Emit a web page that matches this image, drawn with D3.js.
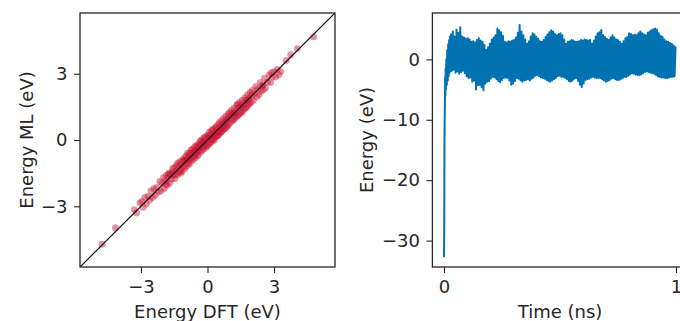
<!DOCTYPE html>
<html><head><meta charset="utf-8">
<script src="https://cdn.jsdelivr.net/npm/d3@7"></script>
<style>
html,body{margin:0;padding:0;background:#fff;}
svg{display:block;font-family:"DejaVu Sans",sans-serif;}
</style></head><body>
<svg id="chart" width="680" height="321"></svg>
<script>
// ---- Parity plot data (DFT vs ML energies, eV) ----
const dftEnergy = [
 -4.75,-4.15,-3.3,-3.05,-3.2,4.79,4.05,3.75,3.55,
 -2.95,-2.9,-2.82,-2.75,-2.68,-2.6,-2.55,-2.48,-2.42,-2.35,-2.3,-2.22,-2.15,-2.1,-2.05,
 -1.98,-1.95,-1.9,-1.86,-1.82,-1.78,-1.74,-1.7,-1.66,-1.62,-1.58,-1.55,-1.5,-1.47,-1.43,-1.4,-1.36,-1.32,-1.28,-1.25,-1.22,-1.18,-1.15,-1.12,-1.08,-1.05,-1.03,-1.0,-1.35,-1.6,-1.85,-1.2,-1.45,-1.75,-1.1,
 -0.97,-0.95,-0.92,-0.9,-0.87,-0.84,-0.82,-0.8,-0.77,-0.74,-0.72,-0.7,-0.67,-0.64,-0.62,-0.6,-0.57,-0.54,-0.52,-0.5,-0.47,-0.44,-0.42,-0.4,-0.37,-0.34,-0.32,-0.3,-0.27,-0.24,-0.22,-0.2,-0.17,-0.14,-0.12,-0.1,-0.07,-0.04,-0.02,-0.55,-0.85,-0.35,-0.65,-0.15,-0.45,
 0.0,0.03,0.05,0.08,0.1,0.13,0.15,0.18,0.2,0.23,0.25,0.28,0.3,0.33,0.35,0.38,0.4,0.43,0.45,0.48,0.5,0.53,0.55,0.58,0.6,0.63,0.65,0.68,0.7,0.73,0.75,0.78,0.8,0.83,0.85,0.88,0.9,0.93,0.95,0.98,0.1,0.4,0.6,0.85,0.25,0.7,
 1.0,1.03,1.06,1.09,1.12,1.15,1.18,1.21,1.24,1.27,1.3,1.33,1.36,1.39,1.42,1.45,1.48,1.51,1.54,1.57,1.6,1.63,1.66,1.69,1.72,1.75,1.78,1.81,1.84,1.87,1.9,1.93,1.96,1.99,1.2,1.5,1.8,1.35,
 2.02,2.07,2.12,2.17,2.22,2.27,2.32,2.37,2.42,2.47,2.52,2.57,2.62,2.7,2.78,2.85,2.92,3.0,3.08,3.15,3.22,3.3,2.5,2.88
];
const mlEnergy = [
 -4.72,-3.97,-3.15,-2.85,-3.3,4.67,4.14,3.86,3.6,
 -2.78,-3.05,-2.6,-2.9,-2.55,-2.72,-2.3,-2.6,-2.2,-2.5,-2.15,-2.35,-1.88,-2.3,-1.95,
 -1.7,-2.2,-1.85,-1.6,-2.05,-1.7,-1.5,-1.95,-1.55,-1.78,-1.3,-1.6,-1.25,-1.75,-1.4,-1.15,-1.58,-1.22,-1.45,-0.98,-1.35,-1.1,-1.42,-0.9,-1.2,-0.82,-1.3,-0.95,-1.05,-1.45,-2.0,-1.5,-1.55,-1.55,-0.95,
 -0.72,-1.2,-0.9,-0.6,-1.05,-0.7,-1.1,-0.58,-0.85,-0.45,-0.95,-0.62,-0.4,-0.88,-0.5,-0.75,-0.3,-0.8,-0.47,-0.25,-0.68,-0.3,-0.7,-0.18,-0.45,-0.05,-0.55,-0.22,0.0,-0.48,-0.1,-0.35,0.1,-0.4,-0.07,0.15,-0.28,0.1,-0.3,-0.55,-0.85,-0.32,-0.6,-0.12,-0.5,
 0.22,-0.22,0.08,0.36,-0.15,0.25,-0.12,0.42,0.0,0.48,0.02,0.3,-0.02,0.55,0.12,0.6,0.15,0.38,0.2,0.7,0.22,0.78,0.3,0.56,0.35,0.88,0.38,0.72,0.45,0.98,0.5,0.8,0.52,1.08,0.6,0.92,0.62,1.18,0.7,1.0,0.1,0.42,0.6,0.88,0.25,0.7,
 1.25,0.78,1.1,1.35,0.88,1.22,0.9,1.45,1.0,1.3,1.05,1.58,1.1,1.42,1.15,1.7,1.22,1.55,1.25,1.8,1.32,1.65,1.4,1.92,1.45,1.78,1.5,2.05,1.58,1.88,1.65,2.15,1.7,2.0,1.2,1.5,1.8,1.62,
 2.25,1.8,2.1,2.42,1.95,2.3,2.05,2.6,2.2,2.45,2.28,2.8,2.35,2.62,2.95,2.6,2.85,3.1,2.85,3.2,2.95,3.1,2.5,3.05
];
const parityTicks = [-3, 0, 3];
const parityDomain = [-5.75, 5.75];

// ---- MD energy trace (eV vs ns) ----
const transientTime = [0, 0.001, 0.002, 0.003, 0.004, 0.005, 0.006, 0.007, 0.008, 0.010, 0.012, 0.014, 0.016, 0.018, 0.020, 0.022, 0.024, 0.026, 0.028];
const transientEnergy = [-32.6, -28, -14, -9.5, -7.0, -3.0, -6.0, -1.5, -5.0, 0.0, -4.2, 1.5, -3.5, 2.5, -2.8, 3.2, -2.2, 3.8, -2.0];
const traceStart = 0.03, traceStep = 0.004;
const traceEnergy = [
 4.1,-1.9,4.6,-1.7,3.8,-2.2,4.9,-2.0,4.4,-2.4,
 5.3,-2.1,3.8,-1.9,3.6,-2.3,3.4,-2.8,3.5,-3.1,
 3.3,-3.0,2.9,-3.7,3.0,-3.5,2.8,-5.0,3.2,-4.3,
 3.5,-4.2,3.1,-4.6,2.9,-5.1,2.4,-4.0,1.6,-3.7,
 2.0,-3.6,2.6,-3.2,3.3,-2.9,3.6,-3.0,4.0,-3.3,
 5.1,-3.6,4.8,-3.8,4.5,-3.4,3.9,-3.1,2.9,-3.0,
 2.8,-3.1,3.0,-3.5,2.9,-4.2,3.1,-4.0,3.2,-3.6,
 3.6,-3.1,4.4,-3.2,5.7,-3.5,4.6,-3.7,4.0,-3.5,
 3.3,-3.4,2.6,-3.3,3.0,-3.5,3.8,-3.2,4.3,-3.0,
 4.1,-2.7,3.7,-2.6,3.4,-2.8,3.0,-3.0,2.9,-3.1,
 3.2,-3.2,3.7,-3.4,4.1,-3.6,4.5,-3.7,4.8,-3.5,
 4.6,-3.3,4.2,-3.1,4.0,-2.8,4.2,-2.7,4.3,-2.9,
 4.0,-2.9,3.3,-3.1,2.6,-3.3,2.9,-3.6,3.0,-3.7,
 3.2,-3.5,3.1,-3.2,2.9,-3.1,2.9,-3.6,3.0,-4.2,
 3.2,-4.6,3.1,-4.0,3.3,-3.4,3.2,-3.3,3.1,-3.2,
 3.2,-3.0,2.6,-2.9,3.1,-3.0,3.8,-3.1,4.3,-3.1,
 4.5,-3.1,4.85,-3.3,4.0,-3.5,3.7,-3.7,3.4,-3.6,
 3.2,-3.4,3.6,-3.2,4.0,-3.1,3.6,-3.3,3.3,-3.4,
 3.2,-3.4,2.9,-3.3,2.6,-3.1,3.0,-2.9,3.5,-2.9,
 3.7,-2.7,4.3,-2.5,4.2,-2.3,4.0,-2.4,4.1,-2.5,
 4.0,-2.6,4.3,-2.6,4.6,-2.5,4.3,-2.3,4.1,-2.1,
 4.0,-2.0,4.4,-2.1,4.6,-2.2,4.8,-2.3,5.0,-2.4,
 5.1,-2.6,4.9,-2.8,4.3,-2.9,3.9,-3.0,3.7,-3.0,
 3.3,-3.1,3.0,-3.1,2.9,-3.0,2.7,-2.9,2.6,-2.9,
 2.3,-2.8,2.0
];
const traceXTicks = [0, 1];
const traceYTicks = [-30, -20, -10, 0];
const traceXDomain = [-0.05, 1.05];
const traceYDomain = [-34.37, 7.67];

// ---- drawing ----
const svg = d3.select("#chart");
const ink = "#262626";
const fmt = d => (d < 0 ? "\u2212" + Math.abs(d) : String(d));

function styleAxis(g) {
  g.select(".domain").remove();
  g.selectAll("line").attr("stroke", ink).attr("stroke-width", 1.1);
  g.selectAll("text").attr("fill", ink).style("font-size", "18px").style("font-family", '"DejaVu Sans", sans-serif');
}

const defs = svg.append("defs");
// Left panel
const L = {left: 80, right: 335, top: 13, bottom: 267};
const xL = d3.scaleLinear().domain(parityDomain).range([L.left, L.right]);
const yL = d3.scaleLinear().domain(parityDomain).range([L.bottom, L.top]);
defs.append("clipPath").attr("id", "clipL").append("rect")
  .attr("x", L.left).attr("y", L.top).attr("width", L.right - L.left).attr("height", L.bottom - L.top);

const gPts = svg.append("g").attr("clip-path", "url(#clipL)");
gPts.selectAll("circle").data(d3.range(dftEnergy.length)).join("circle")
  .attr("cx", i => xL(dftEnergy[i])).attr("cy", i => yL(mlEnergy[i]))
  .attr("r", 3.4).attr("fill", "#c8102e").attr("fill-opacity", 0.45);
gPts.append("line")
  .attr("x1", xL(parityDomain[0])).attr("y1", yL(parityDomain[0]))
  .attr("x2", xL(parityDomain[1])).attr("y2", yL(parityDomain[1]))
  .attr("stroke", "#111").attr("stroke-width", 1.2);

svg.append("g").attr("transform", `translate(0,${L.bottom})`)
  .call(d3.axisBottom(xL).tickValues(parityTicks).tickFormat(fmt).tickSize(6).tickPadding(7)).call(styleAxis);
svg.append("g").attr("transform", `translate(${L.left},0)`)
  .call(d3.axisLeft(yL).tickValues(parityTicks).tickFormat(fmt).tickSize(6).tickPadding(6.5)).call(styleAxis);
svg.append("rect").attr("x", L.left).attr("y", L.top).attr("width", L.right - L.left).attr("height", L.bottom - L.top)
  .attr("fill", "none").attr("stroke", ink).attr("stroke-width", 1.3);

// Right panel
const R = {left: 432.4, right: 687.6, top: 13, bottom: 267};
const xR = d3.scaleLinear().domain(traceXDomain).range([R.left, R.right]);
const yR = d3.scaleLinear().domain(traceYDomain).range([R.bottom, R.top]);
defs.append("clipPath").attr("id", "clipR").append("rect")
  .attr("x", R.left).attr("y", R.top).attr("width", R.right - R.left).attr("height", R.bottom - R.top);

const trace = transientTime.map((t, i) => ({t, e: transientEnergy[i]}))
  .concat(traceEnergy.map((e, i) => ({t: traceStart + i * traceStep, e})));
svg.append("g").attr("clip-path", "url(#clipR)").append("path")
  .datum(trace)
  .attr("d", d3.line().x(d => xR(d.t)).y(d => yR(d.e)))
  .attr("fill", "none").attr("stroke", "#0072b2").attr("stroke-width", 2)
  .attr("stroke-linejoin", "round").attr("stroke-linecap", "round");

svg.append("g").attr("transform", `translate(0,${R.bottom})`)
  .call(d3.axisBottom(xR).tickValues(traceXTicks).tickFormat(fmt).tickSize(6).tickPadding(7)).call(styleAxis);
svg.append("g").attr("transform", `translate(${R.left},0)`)
  .call(d3.axisLeft(yR).tickValues(traceYTicks).tickFormat(fmt).tickSize(6).tickPadding(6.5)).call(styleAxis);
svg.append("rect").attr("x", R.left).attr("y", R.top).attr("width", R.right - R.left).attr("height", R.bottom - R.top)
  .attr("fill", "none").attr("stroke", ink).attr("stroke-width", 1.3);

// Axis titles
const title = (x, y, rot, txt) => svg.append("text")
  .attr("transform", `translate(${x},${y})` + (rot ? " rotate(-90)" : ""))
  .attr("text-anchor", "middle").attr("fill", ink).style("font-size", "18px").text(txt);
title((L.left + L.right) / 2, 318, false, "Energy DFT (eV)");
title((R.left + R.right) / 2, 318, false, "Time (ns)");
title(33, (L.top + L.bottom) / 2, true, "Energy ML (eV)");
title(373, (R.top + R.bottom) / 2, true, "Energy (eV)");
</script>
</body></html>
